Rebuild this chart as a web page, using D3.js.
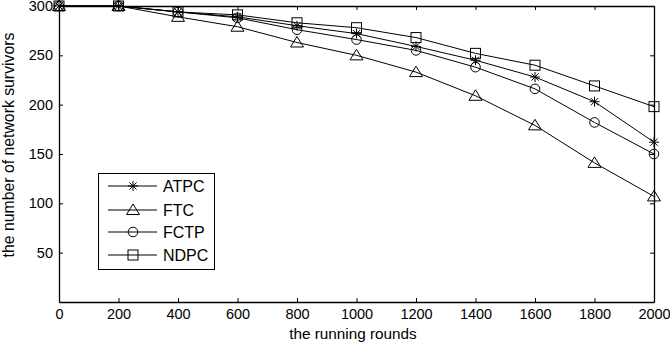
<!DOCTYPE html>
<html><head><meta charset="utf-8">
<script src="https://cdn.jsdelivr.net/npm/d3@7"></script>
<style>
html,body{margin:0;padding:0;background:#fff;}
svg{display:block;font-family:"Liberation Sans",Arial,sans-serif;}
</style></head>
<body>
<script>
const rounds = [0,200,400,600,800,1000,1200,1400,1600,1800,2000];
const ATPC = [300,300,294,289,280,272,259,245,228,203,162];
const FTC  = [300,300,289,279,263,250,233,209,179,141,107];
const FCTP = [300,300,294,288,276,266,255,238,216,182,150];
const NDPC = [300,300,294,291,283,278,268,252,240,219,198];
const seriesNames = ["ATPC","FTC","FCTP","NDPC"];
const seriesMarkers = ["star","triangle","circle","square"];
const xTicks = [0,200,400,600,800,1000,1200,1400,1600,1800,2000];
const yTicks = [50,100,150,200,250,300];
const xLabel = "the running rounds";
const yLabel = "the number of network survivors";

(function(){
const W = 670, H = 346;
const m = {left:59, right:16, top:6, bottom:44};
const svg = d3.select("body").append("svg").attr("width",W).attr("height",H);
const x = d3.scaleLinear().domain([0,2000]).range([m.left, W-m.right]);
const y = d3.scaleLinear().domain([0,300]).range([H-m.bottom, m.top]);

const g = svg.append("g");
const axBottom = g.append("g").attr("transform",`translate(0,${H-m.bottom})`)
  .call(d3.axisBottom(x).tickValues(xTicks).tickSizeInner(-4).tickSizeOuter(0).tickPadding(7).tickFormat(d3.format("d")));
const axTop = g.append("g").attr("transform",`translate(0,${m.top})`)
  .call(d3.axisTop(x).tickValues(xTicks).tickSizeInner(-4).tickSizeOuter(0).tickFormat(""));
const axLeft = g.append("g").attr("transform",`translate(${m.left},0)`)
  .call(d3.axisLeft(y).tickValues(yTicks).tickSizeInner(-4).tickSizeOuter(0).tickPadding(6));
const axRight = g.append("g").attr("transform",`translate(${W-m.right},0)`)
  .call(d3.axisRight(y).tickValues(yTicks).tickSizeInner(-4).tickSizeOuter(0).tickFormat(""));
[axBottom,axTop,axLeft,axRight].forEach(a=>{
  a.select(".domain").attr("stroke","#000").attr("stroke-width",1.3);
  a.selectAll(".tick line").attr("stroke","#000");
  a.selectAll("text").attr("font-size",14.5).attr("fill","#000").attr("font-family","Liberation Sans, Arial, sans-serif");
});

svg.append("text").attr("x",353).attr("y",338.5).attr("text-anchor","middle")
  .attr("font-size",15.3).text(xLabel);
svg.append("text").attr("transform",`translate(13.5,145) rotate(-90)`)
  .attr("text-anchor","middle").attr("font-size",15.8).text(yLabel);

function marker(sel, type){
  sel.attr("fill","none").attr("stroke","#000").attr("stroke-width",1);
  if(type==="star"){
    const r=5, d=3.6;
    sel.append("path").attr("d",`M0,${-r}V${r}M${-r},0H${r}M${-d},${-d}L${d},${d}M${-d},${d}L${d},${-d}`);
  } else if(type==="triangle"){
    sel.append("path").attr("d","M0,-6L6.5,4.5L-6.5,4.5Z");
  } else if(type==="circle"){
    sel.append("circle").attr("r",4.8);
  } else {
    sel.append("rect").attr("x",-5).attr("y",-5).attr("width",10).attr("height",10);
  }
}

const allSeries = [ATPC,FTC,FCTP,NDPC];
const line = d3.line().x((d,i)=>x(rounds[i])).y(d=>y(d));
allSeries.forEach((vals,si)=>{
  g.append("path").datum(vals).attr("d",line).attr("fill","none").attr("stroke","#000").attr("stroke-width",1);
  vals.forEach((v,i)=>{
    const mk = g.append("g").attr("transform",`translate(${x(rounds[i])},${y(v)})`);
    marker(mk, seriesMarkers[si]);
  });
});

const lg = svg.append("g");
lg.append("rect").attr("x",98.5).attr("y",173.5).attr("width",116).attr("height",96)
  .attr("fill","#fff").attr("stroke","#000").attr("stroke-width",1);
const ly = [186,210,232,255];
seriesNames.forEach((n,i)=>{
  lg.append("line").attr("x1",108).attr("x2",157).attr("y1",ly[i]).attr("y2",ly[i]).attr("stroke","#000");
  const mk = lg.append("g").attr("transform",`translate(133,${ly[i]})`);
  marker(mk, seriesMarkers[i]);
  lg.append("text").attr("x",163).attr("y",ly[i]).attr("dy","0.36em").attr("font-size",16).text(n);
});
})();
</script>
</body></html>
